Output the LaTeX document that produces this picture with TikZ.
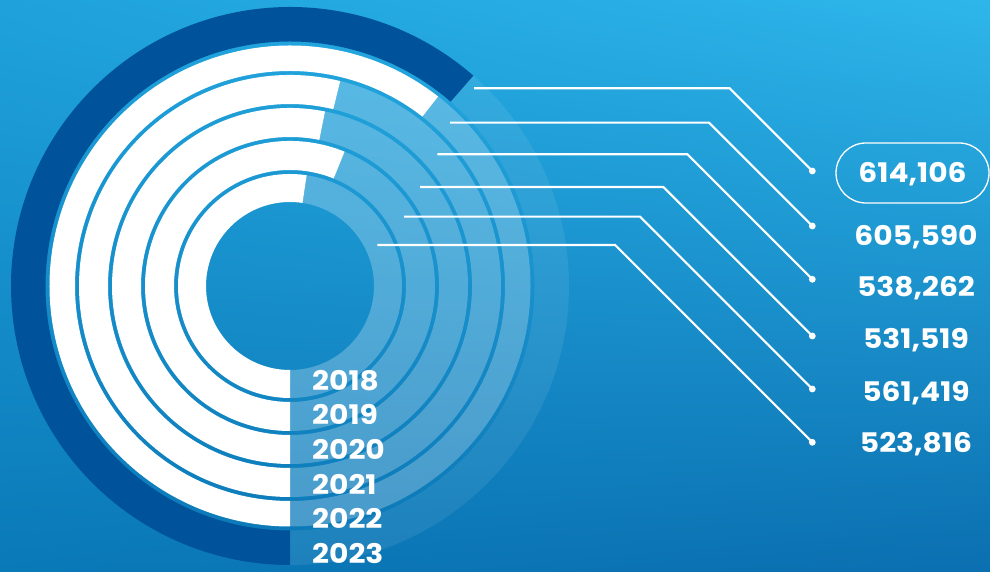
\documentclass[tikz,border=0pt]{standalone}
\usepackage{fontspec}
\setmainfont{Poppins}[FakeStretch=1.1]
\usetikzlibrary{shadings}
\definecolor{bgtl}{HTML}{1FA2DC}
\definecolor{bgtr}{HTML}{2EB6EA}
\definecolor{bgbl}{HTML}{0A79B8}
\definecolor{bgbr}{HTML}{0B6FB0}
\definecolor{ringdark}{HTML}{00539B}
\tikzset{
    figtext/.style={text=white,font=\bfseries\fontsize{27}{27}\selectfont,inner sep=0pt,text height=18.8pt,text depth=0pt},
    lead/.style={draw=white,line width=2.1pt}
}
\begin{document}
\begin{tikzpicture}[x=1pt,y=1pt]
    \useasboundingbox (0,0) rectangle (990,572);
    \shade[upper left=bgtl,upper right=bgtr,lower left=bgbl,lower right=bgbr] (0,0) rectangle (990,572);
    % rings, inner to outer
    \begin{scope}[shift={(290,286)}]
        \foreach \ri/\ro/\e/\c/\o in {84/112/81.43/white/.25, 116/145/67.89/white/.25, 149/178/78.65/white/.25, 182/211/76.23/white/.25, 215/240.5/51.99/white/.25, 244.5/279/48.92/ringdark/.08}
        {
            \fill[\c] (\e:\ro) arc[start angle=\e, end angle=270, radius=\ro] -- (270:\ri) arc[start angle=270, end angle=\e, radius=\ri] -- cycle;
            \fill[white,fill opacity=\o] (-90:\ro) arc[start angle=-90, end angle=\e, radius=\ro] -- (\e:\ri) arc[start angle=\e, end angle=-90, radius=\ri] -- cycle;
        }
    \end{scope}
    \foreach \yr [count=\i from 0] in {2018,2019,2020,2021,2022,2023}
        \node[figtext,anchor=west] (y\yr) at (312,{191-34.6*\i}) {\yr};
    % leader lines
    \foreach \yr/\sx/\sy/\dy in {2023/474/483.7/401, 2022/450/449.3/346, 2021/437.3/417.7/292.7, 2020/420/385/236, 2019/404/355.3/183, 2018/377.3/327/129.7}
    {
        \pgfmathsetmacro\bx{812.3-\sy+\dy}
        \coordinate (s\yr) at (\sx,\sy);
        \coordinate (b\yr) at (\bx,\sy);
        \coordinate (d\yr) at (812.3,\dy);
        \draw[lead] (s\yr) -- (b\yr) -- (d\yr);
        \fill[white] (d\yr) circle (3.4);
    }
    \node[figtext,draw=white,line width=1.3pt,rounded corners=30pt,minimum width=153pt,minimum height=60pt] (v2023) at (912.5,399) {614,106};
    \node[figtext] (v2022) at (916,336) {605,590};
    \node[figtext] (v2021) at (916,285.3) {538,262};
    \node[figtext] (v2020) at (916,232.7) {531,519};
    \node[figtext] (v2019) at (916,180.3) {561,419};
    \node[figtext] (v2018) at (916,128.7) {523,816};
\end{tikzpicture}
\end{document}
